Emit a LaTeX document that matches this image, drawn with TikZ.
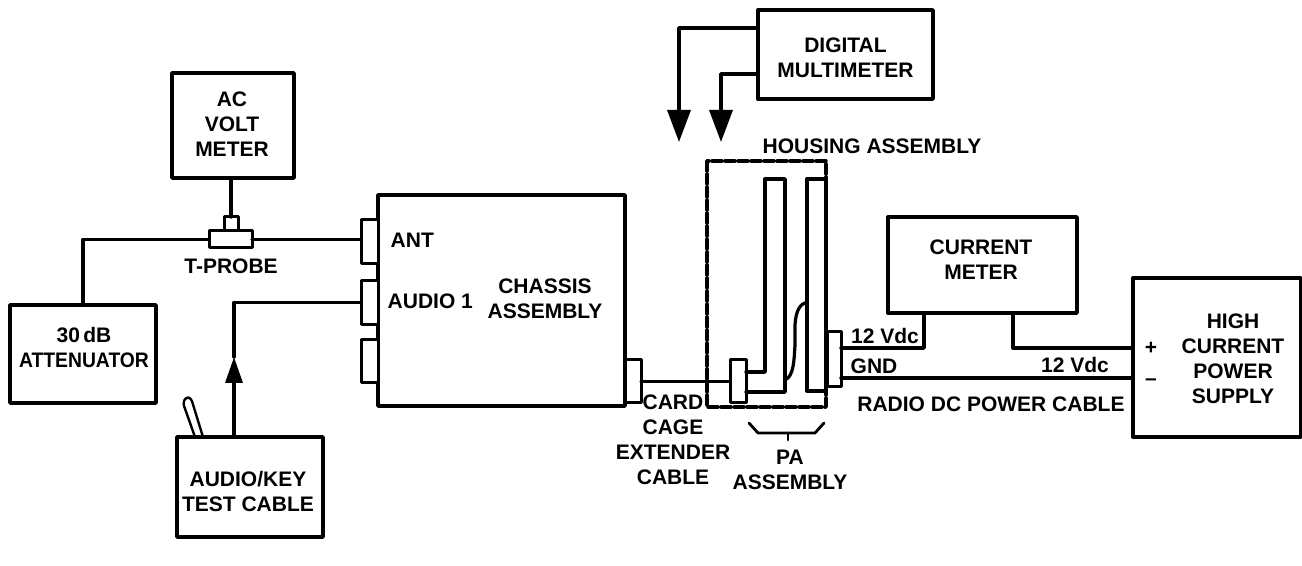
\documentclass[tikz,border=0pt]{standalone}
\usepackage{fontspec}
\setmainfont{Liberation Sans}
\usetikzlibrary{arrows.meta}
\tikzset{
  setA/.style={
    font=\bfseries\fontsize{10.5}{12.5}\selectfont,
    line cap=round, line join=round,
    line width=1.7pt,
  },
  block/.style={
    draw=black, line width=1.7pt, fill=white, align=center,
    inner sep=0pt, outer sep=0pt,
  },
  jack/.style={block, line width=1.5pt},
  wire/.style={draw=black, line width=1.7pt},
  probeWire/.style={wire, -{Triangle[length=16pt, width=11.5pt]}},
  feedWire/.style={wire, -{Triangle[length=13pt, width=8.5pt]}},
  housing/.style={draw=black, line width=1.7pt, dash pattern=on 5pt off 1.5pt},
  sublabel/.style={align=center, inner sep=0pt},
}
\begin{document}
\begin{tikzpicture}[setA, x=0.5pt, y=-0.5pt]
\useasboundingbox (0,0) rectangle (1302,566);

% ============================================================
% LEFT SIDE: meter, attenuator and key cable.
% ============================================================
\node[block, minimum width=61pt, minimum height=52.5pt]
  (acMeter) at (233,125.5) {};
\node[sublabel] (acText) at (232,124.5) {AC\\VOLT\\METER};

\node[block, minimum width=73pt, minimum height=49pt]
  (atten) at (83,354) {};
\node[sublabel] (attenText) at (84,347) {30\,dB\\\scalebox{.92}[1]{ATTENUATOR}};

\node[block, minimum width=73pt, minimum height=50pt]
  (keyBox) at (250,487) {};
\node[sublabel] (keyText) at (248,491.5) {AUDIO/KEY\\TEST CABLE};

% T-probe body and stem
\node[jack, minimum width=7pt, minimum height=8pt] (tStem) at (231,225) {};
\node[jack, minimum width=21.5pt, minimum height=8.5pt] (tBody) at (230.5,239.5) {};
\node[sublabel] (tText) at (231,266) {T-PROBE};

% ============================================================
% CHASSIS and its three jacks
% ============================================================
\node[block, minimum width=123.5pt, minimum height=105.5pt]
  (chassis) at (501.5,300.5) {};
\node[jack, minimum width=8.5pt, minimum height=22pt] (antJack) at (369.5,242) {};
\node[jack, minimum width=8.5pt, minimum height=22pt] (audioJack) at (369.5,302.5) {};
\node[jack, minimum width=8.5pt, minimum height=21.5pt] (spareJack) at (369.5,361.5) {};
\node[jack, minimum width=8pt, minimum height=21.5pt] (cardJack) at (633,381.5) {};
\node[sublabel, anchor=west] (antText) at (389,240) {ANT};
\node[sublabel, anchor=west] (audioText) at (386,301.5) {AUDIO 1};
\node[sublabel] (chassisText) at (545,299) {CHASSIS\\ASSEMBLY};

% Connectors on the left
\draw[wire] (tStem.north |- acMeter.south) -- (tStem.north);
\draw[wire] (tBody.west) -| (atten.north);
\draw[wire] (tBody.east) -- (tBody.east -| antJack.west);
\coordinate (keyOut) at (234,437);
\coordinate (keyHead) at (234,357);
\draw[wire] (audioJack.west) -| (keyHead);
\draw[feedWire] (keyOut) -- (keyHead);

% Key switch on top of the cable box
\draw[line width=1.2pt, rounded corners=1.5pt]
  (195,437) -- (183,403) -- (186,397) -- (191,398) -- (203,437);

% ============================================================
% HOUSING with PA cards
% ============================================================
\node[jack, minimum width=8pt, minimum height=21.5pt] (paJack) at (738,381.5) {};
\node[jack, minimum width=7pt, minimum height=27.5pt] (dcJack) at (834,359.5) {};
\draw[housing] (707,161) rectangle (826,407);
\node[sublabel, anchor=west] (housingText) at (761,146) {HOUSING ASSEMBLY};

% PA cards
\draw[wire] (paJack.east |- 0,372) -- (765,372) -- (765,179) -- (785,179)
  -- (785,392) -- (paJack.east |- 0,392);
\node[block, fill=none, minimum width=9.5pt, minimum height=106pt] (cardB) at (816.5,285) {};
\draw[line width=1.6pt] (785,380) .. controls (794,376) and (794,360) .. (795,345)
  -- (795,325) .. controls (796,310) and (800,304) .. (807,302);

% Cable between chassis and PA
\draw[wire] (cardJack.east) -- (paJack.west);
\node[sublabel] (cageText) at (673,439.5) {CARD\\CAGE\\EXTENDER\\CABLE};

% PA bracket
\draw[line width=1.4pt] (749,423) -- (758,433) -- (815,433) -- (824,423);
\draw[line width=1.4pt] (788,433) -- (788,440);
\node[sublabel] (paText) at (790,470) {PA\\ASSEMBLY};

% ============================================================
% DIGITAL MULTIMETER probes
% ============================================================
\node[block, minimum width=87.5pt, minimum height=44.5pt]
  (dmm) at (845.5,54.5) {};
\node[sublabel] (dmmText) at (845.5,58) {DIGITAL\\MULTIMETER};
\coordinate (probeA) at (679,142);
\coordinate (probeB) at (721,142);
\draw[probeWire] (dmm.west |- 0,28) -| (probeA);
\draw[probeWire] (dmm.west |- 0,74) -| (probeB);

% ============================================================
% RIGHT SIDE: current meter and supply
% ============================================================
\node[block, minimum width=94.5pt, minimum height=48pt]
  (curMeter) at (982.5,265) {};
\node[sublabel] (curText) at (981,260) {CURRENT\\METER};
\node[block, minimum width=84pt, minimum height=79.5pt]
  (supply) at (1217,357.5) {};
\node[sublabel] (supplyText) at (1233,359) {HIGH\\CURRENT\\POWER\\SUPPLY};
\node[sublabel] (plusText) at (1151,348) {+};
\node[sublabel] (minusText) at (1151,382) {--};

\draw[wire] (dcJack.east |- 0,348) -| (curMeter.south -| 924,0);
\draw[wire] (curMeter.south -| 1013,0) |- (supply.west |- 0,348);
\draw[wire] (dcJack.east |- 0,378) -- (supply.west |- 0,378);

\node[sublabel] (dcAText) at (885,336) {12 Vdc};
\node[sublabel] (gndText) at (874,366) {GND};
\node[sublabel] (dcBText) at (1075,365) {12 Vdc};
\node[sublabel] (cableText) at (991,404) {RADIO DC POWER CABLE};

\end{tikzpicture}
\end{document}
